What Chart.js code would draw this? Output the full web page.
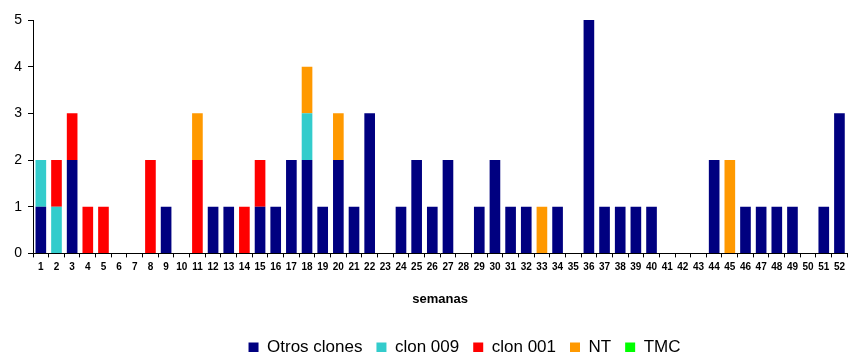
<!DOCTYPE html>
<html>
<head>
<meta charset="utf-8">
<script src="https://cdn.jsdelivr.net/npm/chart.js@4"></script>
<style>
  html, body { margin: 0; padding: 0; background: #fff; }
  #wrap { width: 849px; height: 352px; }
</style>
</head>
<body>
<div id="wrap"><canvas id="c"></canvas></div>
<script>
// weeks 1..52
const semanas = Array.from({ length: 52 }, (_, i) => String(i + 1));

const otrosClones = [1,0,2,0,0,0,0,0,1,0, 0,1,1,0,1,1,2,2,1,2, 1,3,0,1,2,1,2,0,1,2, 1,1,0,1,0,5,1,1,1,1, 0,0,0,2,0,1,1,1,1,0, 1,3];
const clon009     = [1,1,0,0,0,0,0,0,0,0, 0,0,0,0,0,0,0,1,0,0, 0,0,0,0,0,0,0,0,0,0, 0,0,0,0,0,0,0,0,0,0, 0,0,0,0,0,0,0,0,0,0, 0,0];
const clon001     = [0,1,1,1,1,0,0,2,0,0, 2,0,0,1,1,0,0,0,0,0, 0,0,0,0,0,0,0,0,0,0, 0,0,0,0,0,0,0,0,0,0, 0,0,0,0,0,0,0,0,0,0, 0,0];
const nt          = [0,0,0,0,0,0,0,0,0,0, 1,0,0,0,0,0,0,1,0,1, 0,0,0,0,0,0,0,0,0,0, 0,0,1,0,0,0,0,0,0,0, 0,0,0,0,2,0,0,0,0,0, 0,0];
const tmc         = new Array(52).fill(0);

const yTicks = [0, 1, 2, 3, 4, 5];

const mkSet = (label, data, color) => ({
  label: label,
  data: data,
  backgroundColor: color,
  borderWidth: 0,
  barPercentage: 0.68,
  categoryPercentage: 1.0,
});

// the legend sits a bit right of centre in the original
const legendShift = {
  id: 'legendShift',
  afterLayout: chart => {
    const lg = chart.legend;
    lg.left += 40;
    lg.right += 40;
    lg.top -= 11;
    lg.bottom -= 11;
  },
};

new Chart(document.getElementById('c'), {
  type: 'bar',
  data: {
    labels: semanas,
    datasets: [
      mkSet('Otros clones', otrosClones, '#000080'),
      mkSet('clon 009', clon009, '#33CCCC'),
      mkSet('clon 001', clon001, '#FF0000'),
      mkSet('NT', nt, '#FF9900'),
      mkSet('TMC', tmc, '#00FF00'),
    ],
  },
  plugins: [legendShift],
  options: {
    responsive: true,
    maintainAspectRatio: false,
    animation: false,
    layout: { padding: { top: 20, right: 0, bottom: -25, left: 0 } },
    plugins: {
      tooltip: { enabled: false },
      legend: {
        position: 'bottom',
        labels: {
          boxWidth: 10,
          boxHeight: 10,
          padding: 14,
          color: '#000',
          font: { family: 'Liberation Sans', size: 17 },
        },
      },
    },
    scales: {
      x: {
        stacked: true,
        grid: { display: true, drawOnChartArea: false, tickLength: 4, color: '#000', offset: true },
        border: { color: '#000', width: 1 },
        ticks: {
          autoSkip: false,
          maxRotation: 0,
          minRotation: 0,
          padding: 4,
          color: '#000',
          font: { family: 'Liberation Sans', size: 10, weight: 'bold' },
        },
        title: {
          display: true,
          text: 'semanas',
          color: '#000',
          font: { family: 'Liberation Sans', size: 13, weight: 'bold' },
          padding: { top: 14, bottom: 29 },
        },
      },
      y: {
        stacked: true,
        min: 0,
        max: 5,
        afterFit: scale => { scale.width = 33; },
        afterBuildTicks: scale => { scale.ticks = yTicks.map(v => ({ value: v })); },
        grid: { display: true, drawOnChartArea: false, tickLength: 5, color: '#000' },
        border: { color: '#000', width: 1 },
        ticks: {
          padding: 6,
          color: '#000',
          font: { family: 'Liberation Sans', size: 14 },
        },
      },
    },
  },
});
</script>
</body>
</html>
